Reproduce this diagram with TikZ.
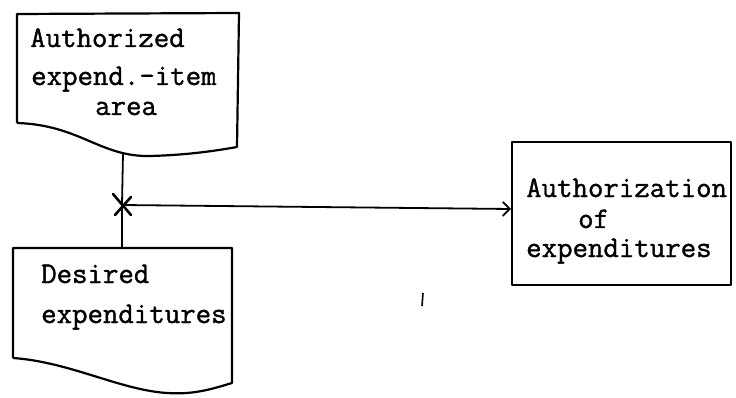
\documentclass[tikz,border=0pt]{standalone}
\usepackage{fontspec}
\newfontfamily\typewriter[FakeBold=1.2]{Latin Modern Mono}
\usetikzlibrary{arrows.meta,calc}
\begin{document}
\begin{tikzpicture}[x=1pt,y=-1pt,
  outline/.style={line width=2.2pt,line join=round},
  flow/.style={line width=1.8pt},
  label/.style={anchor=base west,inner sep=0pt,font=\typewriter\bfseries\fontsize{30}{34}\selectfont}]
\useasboundingbox (0,0) rectangle (736,398);

% upper document: authorized expenditure-item area
\draw[outline] (17,123) -- (17,14) -- (239,13) -- (237,147)
  .. controls (220,150) and (190,155) .. (150,156)
  .. controls (100,157) and (80,125) .. (17,123);
\coordinate (authBottom) at (123,153);
\node[label] (a1) at (30,47) {Authorized};
\node[label] (a2) at (31,85) {expend.-item};
\node[label] (a3) at (95,115) {area};

% lower document: desired expenditures
\draw[outline] (13,358) -- (13,248) -- (232,248) -- (232,383)
  .. controls (215,388) and (195,395) .. (167,393)
  .. controls (120,390) and (70,362) .. (13,358);
\coordinate (desTop) at (122,248);
\node[label] (d1) at (41,283) {Desired};
\node[label] (d2) at (41,323) {expenditures};

% process box: authorization of expenditures
\draw[outline] (512,142) rectangle (731,285);
\coordinate (procLeft) at (511,209);
\node[label] (p1) at (526,197) {Authorization};
\node[label] (p2) at (578,228) {of};
\node[label] (p3) at (526,257) {expenditures};

% merge point with crossing mark
\coordinate (join) at (122,205);
\draw[flow] (authBottom) -- (join);
\draw[flow] (join) -- (desTop);
\draw[flow,-{Straight Barb[length=7pt,width=14pt,line width=1.8pt]}] (join) -- (procLeft);
\draw[line width=2.6pt,line cap=round] ($(join)+(-9,-11)$) -- ($(join)+(9,10)$);
\draw[line width=2.6pt,line cap=round] ($(join)+(9,-8)$) -- ($(join)+(-7,10)$);

% stray tick
\coordinate (tickTop) at (423,293);
\coordinate (tickBot) at (422,306);
\draw[line width=1.6pt] (tickTop) -- (tickBot);
\end{tikzpicture}
\end{document}
